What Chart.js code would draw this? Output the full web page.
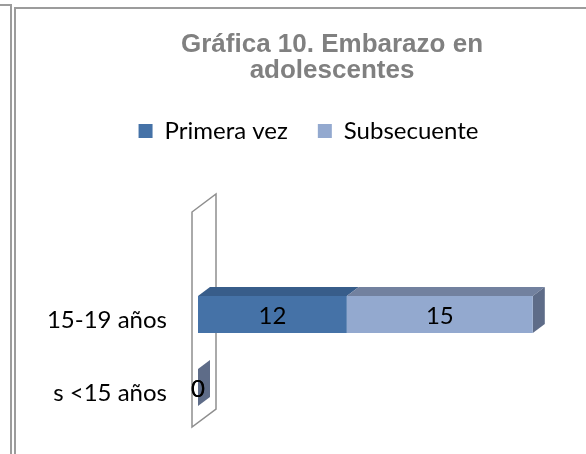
<!DOCTYPE html>
<html>
<head>
<meta charset="utf-8">
<script src="https://cdn.jsdelivr.net/npm/chart.js@4/dist/chart.umd.min.js"></script>
<style>
  html, body { margin: 0; padding: 0; background: #ffffff; width: 586px; height: 454px; overflow: hidden; }
  #wrap { position: relative; width: 586px; height: 454px; }
  .frame1 { position: absolute; box-sizing: border-box; left: -5px; top: 4px; width: 17px; height: 520px;
            border-top: 2px solid #9c9c9c; border-right: 2px solid #9c9c9c; }
  .frame2 { position: absolute; box-sizing: border-box; left: 14px; top: 7px; width: 620px; height: 520px;
            border-top: 2px solid #9c9c9c; border-left: 2px solid #9c9c9c; }
  canvas { position: absolute; left: 0; top: 0; }
</style>
</head>
<body>
<div id="wrap">
  <div class="frame1"></div>
  <div class="frame2"></div>
  <canvas id="c" width="586" height="454"></canvas>
</div>
<script>
// ---- data ----
const titleLines = ['Gráfica 10. Embarazo en', 'adolescentes'];
const categories = ['15-19 años', 's <15 años'];
const seriesNames = ['Primera vez', 'Subsecuente'];
const primeraVez = [12, 0];
const subsecuente = [15, 0];
const valueMax = 30;

// ---- styles ----
const frontColors = ['#4572A7', '#93A9CF'];
const topColors = ['#385D8A', '#72819F'];
const sideColors = ['#2E4A6E', '#5E6C88'];
const bodyFont = 'Lato, "Noto Sans", sans-serif';
const textSize = 24;

const depth = { dx: 12, dy: 9 };

const titlePlugin = {
  id: 'customTitle',
  afterDraw(chart) {
    const ctx = chart.ctx;
    ctx.save();
    ctx.font = 'bold 26px "Liberation Sans", Arial, sans-serif';
    ctx.fillStyle = '#808080';
    ctx.textAlign = 'center';
    ctx.textBaseline = 'alphabetic';
    const cx = 332;
    titleLines.forEach((t, i) => ctx.fillText(t, cx, 52 + i * 25.5));
    ctx.restore();
  }
};

const bar3dPlugin = {
  id: 'bar3d',
  beforeDatasetsDraw(chart) {
    const ctx = chart.ctx;
    const xs = chart.scales.x;
    const area = chart.chartArea;
    const x0 = xs.getPixelForValue(0);
    // back wall at the value-axis origin
    ctx.save();
    const wl = x0 - 6, wr = x0 + 18;
    const wt = area.top - 66, wb = area.bottom + 3;
    ctx.beginPath();
    ctx.moveTo(wl, wt);
    ctx.lineTo(wr, wt - 18);
    ctx.lineTo(wr, wb - 18);
    ctx.lineTo(wl, wb);
    ctx.closePath();
    ctx.fillStyle = '#ffffff';
    ctx.fill();
    ctx.strokeStyle = '#8e8e8e';
    ctx.lineWidth = 1.5;
    ctx.stroke();

    const nDs = chart.data.datasets.length;
    for (let j = 0; j < categories.length; j++) {
      for (let i = 0; i < nDs; i++) {
        const el = chart.getDatasetMeta(i).data[j];
        const p = el.getProps(['x', 'y', 'base', 'height'], true);
        const top = p.y - p.height / 2, bottom = p.y + p.height / 2;
        const a = Math.min(p.base, p.x), b = Math.max(p.base, p.x);
        if (b > a) {
          ctx.beginPath();
          ctx.moveTo(a, top);
          ctx.lineTo(a + depth.dx, top - depth.dy);
          ctx.lineTo(b + depth.dx, top - depth.dy);
          ctx.lineTo(b, top);
          ctx.closePath();
          ctx.fillStyle = topColors[i];
          ctx.fill();
        }
        if (i === nDs - 1) {
          ctx.beginPath();
          ctx.moveTo(b, top);
          ctx.lineTo(b + depth.dx, top - depth.dy);
          ctx.lineTo(b + depth.dx, bottom - depth.dy);
          ctx.lineTo(b, bottom);
          ctx.closePath();
          ctx.fillStyle = sideColors[i];
          ctx.fill();
        }
      }
    }
    ctx.restore();
  },
  afterDatasetsDraw(chart) {
    const ctx = chart.ctx;
    ctx.save();
    ctx.font = textSize + 'px ' + bodyFont;
    ctx.fillStyle = '#000000';
    ctx.textAlign = 'center';
    ctx.textBaseline = 'middle';
    chart.data.datasets.forEach((ds, i) => {
      chart.getDatasetMeta(i).data.forEach((el, j) => {
        const p = el.getProps(['x', 'y', 'base'], true);
        ctx.fillText(String(ds.data[j]), (p.x + p.base) / 2, p.y + 2);
      });
    });
    ctx.restore();
  }
};

new Chart(document.getElementById('c'), {
  type: 'bar',
  data: {
    labels: categories,
    datasets: [
      { label: seriesNames[0], data: primeraVez, backgroundColor: frontColors[0], borderWidth: 0 },
      { label: seriesNames[1], data: subsecuente, backgroundColor: frontColors[1], borderWidth: 0 }
    ]
  },
  options: {
    responsive: false,
    animation: false,
    indexAxis: 'y',
    datasets: { bar: { categoryPercentage: 1, barPercentage: 0.507 } },
    layout: { padding: { left: 47, right: 16, top: 89, bottom: 30 } },
    plugins: {
      title: { display: false },
      tooltip: { enabled: false },
      legend: {
        display: true,
        position: 'top',
        labels: {
          boxWidth: 14,
          boxHeight: 14,
          padding: 30,
          color: '#000000',
          font: { family: bodyFont, size: textSize }
        }
      }
    },
    scales: {
      x: {
        stacked: true,
        min: 0,
        max: valueMax,
        position: 'top',
        grid: { display: false },
        border: { display: false },
        ticks: { display: false },
        afterFit(s) { s.height = 125; }
      },
      y: {
        stacked: true,
        grid: { display: false, drawTicks: false },
        border: { display: false },
        ticks: {
          color: '#000000',
          padding: 31,
          labelOffset: 6,
          font: { family: bodyFont, size: textSize }
        },
        afterFit(s) { s.width = 151; s.paddingTop = 0; s.paddingBottom = 0; }
      }
    }
  },
  plugins: [bar3dPlugin, titlePlugin]
});
</script>
</body>
</html>
